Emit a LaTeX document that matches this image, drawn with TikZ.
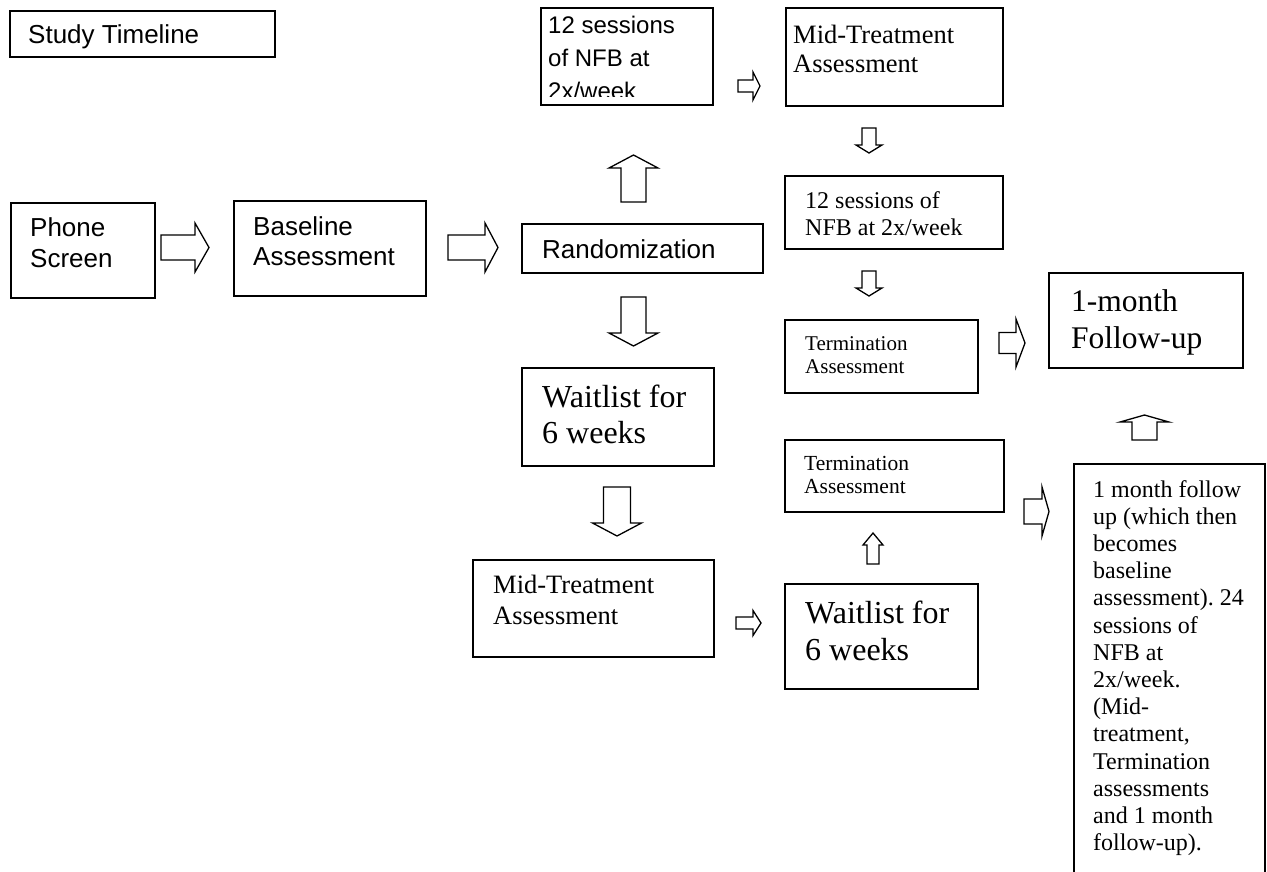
\documentclass[tikz,border=0pt]{standalone}
\usepackage{fontspec}
\setmainfont{Liberation Serif}
\setsansfont{Liberation Sans}
\frenchspacing
\newcommand\ml[1]{\begin{tabular}[t]{@{}l@{}}#1\end{tabular}}
\tikzset{
  box/.style={draw, line width=1.5pt, inner sep=0pt, anchor=north west},
  lbl/.style={anchor=base west, inner sep=0pt},
  ss/.style 2 args={font=\sffamily\fontsize{#1}{#2}\selectfont},
  rm/.style 2 args={font=\rmfamily\fontsize{#1}{#2}\selectfont},
  blk/.style={draw, line width=1.3pt, line join=miter, fill=white},
}
% horizontal block arrow: x-tail, x-tip, y-centre, body half, head half, x of head base
\newcommand\hblk[6]{\draw[blk] (#1,#3-#4) -- (#6,#3-#4) -- (#6,#3-#5) -- (#2,#3) -- (#6,#3+#5) -- (#6,#3+#4) -- (#1,#3+#4) -- cycle;}
% vertical block arrow: y-tail, y-tip, x-centre, body half, head half, y of head base
\newcommand\vblk[6]{\draw[blk] (#3-#4,#1) -- (#3-#4,#6) -- (#3-#5,#6) -- (#3,#2) -- (#3+#5,#6) -- (#3+#4,#6) -- (#3+#4,#1) -- cycle;}
\begin{document}
\begin{tikzpicture}[x=1pt,y=-1pt]
\clip (0,0) rectangle (1267,871);
\fill[white] (0,0) rectangle (1267,871);

% title
\node[box, minimum width=265pt, minimum height=46pt] (title) at (9,10) {};
\node[lbl, ss={26}{30}] (titleT) at (28,43) {Study Timeline};

% left chain
\node[box, minimum width=144pt, minimum height=95pt] (phone) at (10,202) {};
\node[lbl, ss={26}{31}] (phoneT) at (30,236) {\ml{Phone\\Screen}};
\node[box, minimum width=192pt, minimum height=95pt] (base) at (233,200) {};
\node[lbl, ss={26}{30}] (baseT) at (253,235) {\ml{Baseline\\Assessment}};
\node[box, minimum width=241pt, minimum height=49pt] (rand) at (521,223) {};
\node[lbl, ss={26}{30}] (randT) at (542,258) {Randomization};

% top branch
\node[box, minimum width=172pt, minimum height=97pt] (nfbA) at (540,7) {};
\begin{scope}
\clip (540,7) rectangle (712,96);
\node[lbl, ss={24}{33}] (nfbAT) at (548,33) {\ml{12 sessions\\of NFB at\\2x/week}};
\end{scope}
\node[box, minimum width=217pt, minimum height=98pt] (midA) at (785,7) {};
\node[lbl, rm={26.5}{29}] (midAT) at (793,43) {\ml{Mid-Treatment\\Assessment}};
\node[box, minimum width=218pt, minimum height=73pt] (nfbB) at (784,175) {};
\node[lbl, rm={24}{27}] (nfbBT) at (805,208) {\ml{12 sessions of\\NFB at 2x/week}};
\node[box, minimum width=193pt, minimum height=73pt] (termA) at (784,319) {};
\node[lbl, rm={21}{23.5}] (termAT) at (805,350) {\ml{Termination\\Assessment}};
\node[box, minimum width=194pt, minimum height=95pt] (month) at (1048,272) {};
\node[lbl, rm={31.5}{37}] (monthT) at (1071,311) {\ml{1-month\\Follow-up}};

% waitlist branch
\node[box, minimum width=192pt, minimum height=98pt] (waitA) at (521,367) {};
\node[lbl, rm={32}{36}] (waitAT) at (542,407) {\ml{Waitlist for\\6 weeks}};
\node[box, minimum width=241pt, minimum height=97pt] (midB) at (472,559) {};
\node[lbl, rm={26.5}{31}] (midBT) at (493,593) {\ml{Mid-Treatment\\Assessment}};
\node[box, minimum width=193pt, minimum height=105pt] (waitB) at (784,583) {};
\node[lbl, rm={32}{37}] (waitBT) at (805,623) {\ml{Waitlist for\\6 weeks}};
\node[box, minimum width=219pt, minimum height=72pt] (termB) at (784,439) {};
\node[lbl, rm={21.5}{23}] (termBT) at (804,470) {\ml{Termination\\Assessment}};
\node[box, minimum width=191pt, minimum height=450pt] (tall) at (1073,463) {};
\node[lbl, rm={24}{27.2}] (tallT) at (1093,497) {\ml{1 month follow\\up (which then\\becomes\\baseline\\assessment). 24\\sessions of\\NFB at\\2x/week.\\(Mid-\\treatment,\\Termination\\assessments\\and 1 month\\follow-up).}};

% block arrows
\hblk{161}{209}{247.5}{12.5}{24.5}{195}   % phone -> baseline
\hblk{448}{498}{247.5}{12.5}{24.5}{485}   % baseline -> randomization
\vblk{202}{155}{633.5}{12.5}{24.5}{168}   % randomization -> NFB (up)
\vblk{297}{346}{633.5}{12.5}{24.5}{333}   % randomization -> waitlist
\hblk{738}{760}{86}{6}{14}{753}           % NFB -> mid-treatment
\vblk{128}{153}{869}{7}{13}{145}          % mid-treatment -> NFB
\vblk{271}{296}{869}{7}{13}{288}          % NFB -> termination
\hblk{999}{1025}{343}{10.5}{24}{1016}     % termination -> 1-month
\vblk{487}{536}{617}{13.5}{24.5}{523}     % waitlist -> mid-treatment
\hblk{736}{761}{623}{6}{12.5}{753}        % mid-treatment -> waitlist
\vblk{564}{533}{873}{6}{10}{545}          % waitlist -> termination (up)
\hblk{1024}{1049}{511.5}{12.5}{24.5}{1042}% termination -> tall box
\vblk{440}{415}{1144.5}{12.5}{24.5}{422}  % tall box -> 1-month (up)
\end{tikzpicture}
\end{document}
